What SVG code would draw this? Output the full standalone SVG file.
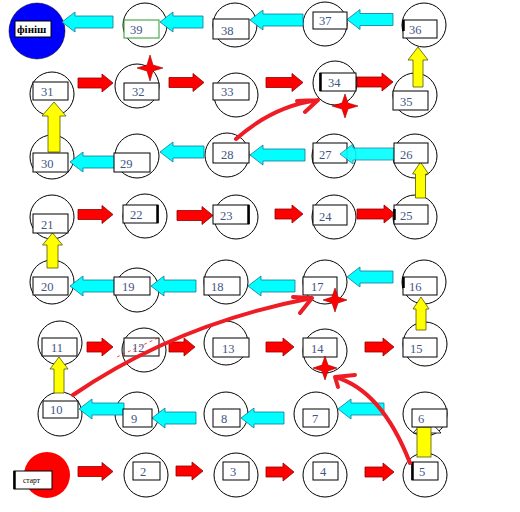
<svg xmlns="http://www.w3.org/2000/svg" width="520" height="512" viewBox="0 0 520 512">
<style>
.c{fill:none;stroke:#000;stroke-width:1}
.b{fill:#fff;stroke:#000;stroke-width:1}
.t{font-family:"Liberation Serif",serif;font-size:12.5px;fill:#3f5585}
.ra{fill:#ff0000;stroke:#900000;stroke-width:0.8}
.ca{fill:#00ffff;stroke:#0a7a9a;stroke-width:0.8}
.ya{fill:#ffff00;stroke:#555500;stroke-width:0.8}
.cv{fill:none;stroke:#ee1c24;stroke-width:4;stroke-linecap:round;stroke-linejoin:round}
.st{fill:#ff0000;stroke:#a00000;stroke-width:0.6}
.tk{stroke:#000;stroke-width:2.5}
</style>
<rect width="520" height="512" fill="#fff"/>
<g id="circles">
<circle cx="37" cy="31" r="28" fill="#0000ff" stroke="#000" stroke-width="0.5"/>
<circle class="c" cx="145" cy="25" r="22"/>
<circle class="c" cx="235" cy="25" r="22"/>
<circle class="c" cx="325" cy="24" r="22"/>
<circle class="c" cx="424" cy="25" r="22"/>
<circle class="c" cx="52" cy="94" r="22"/>
<circle class="c" cx="137" cy="86" r="22"/>
<circle class="c" cx="236" cy="95" r="22"/>
<circle class="c" cx="335" cy="83" r="22"/>
<circle class="c" cx="415" cy="95" r="22"/>
<circle class="c" cx="52" cy="157" r="22"/>
<circle class="c" cx="137" cy="156" r="22"/>
<circle class="c" cx="227" cy="155" r="22"/>
<circle class="c" cx="334" cy="156" r="22"/>
<circle class="c" cx="415" cy="156" r="22"/>
<circle class="c" cx="52" cy="217" r="22"/>
<circle class="c" cx="145" cy="216" r="22"/>
<circle class="c" cx="236" cy="217" r="22"/>
<circle class="c" cx="334" cy="217" r="22"/>
<circle class="c" cx="415" cy="217" r="22"/>
<circle class="c" cx="52" cy="282" r="22"/>
<circle class="c" cx="137" cy="290" r="22"/>
<circle class="c" cx="226" cy="282" r="22"/>
<circle class="c" cx="325" cy="282" r="22"/>
<circle class="c" cx="424" cy="282" r="22"/>
<circle class="c" cx="60" cy="343" r="22"/>
<circle class="c" cx="144" cy="350" r="22"/>
<circle class="c" cx="226" cy="343" r="22"/>
<circle class="c" cx="325" cy="351" r="22"/>
<circle class="c" cx="425" cy="344" r="22"/>
<circle class="c" cx="60" cy="414" r="22"/>
<circle class="c" cx="137" cy="414" r="22"/>
<circle class="c" cx="226" cy="414" r="22"/>
<circle class="c" cx="316" cy="414" r="22"/>
<circle class="c" cx="425" cy="414" r="22"/>
<circle cx="47" cy="475" r="23" fill="#ff0000"/>
<circle class="c" cx="146" cy="475" r="22"/>
<circle class="c" cx="236" cy="475" r="22"/>
<circle class="c" cx="325" cy="475" r="22"/>
<circle class="c" cx="425" cy="475" r="22"/>
</g>
<g id="connectors">
<path class="ra" d="M78,466.5 H102 V462.5 L113,471.5 L102,480.5 V476.5 H78 Z"/>
<path class="ra" d="M176,466 H192 V462 L203,471 L192,480 V476 H176 Z"/>
<path class="ra" d="M266,467 H283 V463 L294,472 L283,481 V477 H266 Z"/>
<path class="ra" d="M365,467 H383 V463 L394,472 L383,481 V477 H365 Z"/>
<path class="ra" d="M87,342 H102 V338 L113,347 L102,356 V352 H87 Z"/>
<path class="ra" d="M169,342 H184 V338 L195,347 L184,356 V352 H169 Z"/>
<path class="ra" d="M266,342 H283 V338 L294,347 L283,356 V352 H266 Z"/>
<path class="ra" d="M365,342 H383 V338 L394,347 L383,356 V352 H365 Z"/>
<path class="ra" d="M78,209.5 H102 V205.5 L113,214.5 L102,223.5 V219.5 H78 Z"/>
<path class="ra" d="M177,210.5 H202 V206.5 L213,215.5 L202,224.5 V220.5 H177 Z"/>
<path class="ra" d="M275,209 H292 V205 L303,214 L292,223 V219 H275 Z"/>
<path class="ra" d="M357,209 H384 V205 L395,214 L384,223 V219 H357 Z"/>
<path class="ra" d="M78,78 H102 V74 L113,83 L102,92 V88 H78 Z"/>
<path class="ra" d="M169,77.5 H193 V73.5 L204,82.5 L193,91.5 V87.5 H169 Z"/>
<path class="ra" d="M266,77.5 H292 V73.5 L303,82.5 L292,91.5 V87.5 H266 Z"/>
<path class="ra" d="M357,77 H382 V73 L393,82 L382,91 V87 H357 Z"/>
<path class="ca" d="M62,22 L75,12 V16 H113 V28 H75 V32 Z"/>
<path class="ca" d="M160,22 L173,12 V16 H203 V28 H173 V32 Z"/>
<path class="ca" d="M250,20 L263,10 V14 H303 V26 H263 V30 Z"/>
<path class="ca" d="M347,19.5 L360,9.5 V13.5 H393 V25.5 H360 V29.5 Z"/>
<path class="ca" d="M70,162 L83,152 V156 H115 V168 H83 V172 Z"/>
<path class="ca" d="M160,152 L173,142 V146 H204 V158 H173 V162 Z"/>
<path class="ca" d="M250,155 L263,145 V149 H305 V161 H263 V165 Z"/>
<path class="ca" d="M70,286 L83,276 V280 H115 V292 H83 V296 Z"/>
<path class="ca" d="M151,286 L164,276 V280 H196 V292 H164 V296 Z"/>
<path class="ca" d="M248,286 L261,276 V280 H295 V292 H261 V296 Z"/>
<path class="ca" d="M347,277 L360,267 V271 H393 V283 H360 V287 Z"/>
<path class="ca" d="M79,409 L92,399 V403 H124 V415 H92 V419 Z"/>
<path class="ca" d="M152,418 L165,408 V412 H196 V424 H165 V428 Z"/>
<path class="ca" d="M241,418 L254,408 V412 H284 V424 H254 V428 Z"/>
<path class="ca" d="M338,409 L351,399 V403 H384 V415 H351 V419 Z"/>
<path class="ya" d="M59,357 L68,369 H64 V393 H54 V369 H50 Z"/>
<path class="ya" d="M421,297 L429,309 H426 V330 H416 V309 H413 Z"/>
<path class="ya" d="M52.5,233 L62.5,245 H58 V268 H47 V245 H42.5 Z"/>
<path class="ya" d="M420.5,162 L428.5,174 H425.5 V198 H415.5 V174 H412.5 Z"/>
<path class="ya" d="M54,102 L66,116 H60 V152 H48 V116 H42 Z"/>
<path class="ya" d="M418,47 L428,60 H423 V87 H413 V60 H408 Z"/>
<path d="M413,433 L441,433 L427,418 Z" fill="#fff" stroke="#000" stroke-width="0.8"/>
<rect class="ya" x="417" y="427" width="14" height="30"/>
</g>
<g id="n-finish"><rect class="b" x="15" y="21" width="36" height="16"/><text x="17" y="33" font-family="Liberation Serif,serif" font-size="11" font-weight="bold" fill="#000">фініш</text></g>
<g id="n39"><rect x="124" y="20" width="35" height="18" fill="#fff" stroke="#2a9a2a"/><text class="t" x="130" y="34">39</text></g>
<g id="n38"><rect class="b" x="213" y="19" width="36" height="20"/><text class="t" x="221" y="35">38</text></g>
<g id="n37"><rect class="b" x="313" y="12" width="34" height="17"/><text class="t" x="319" y="25">37</text></g>
<g id="n36"><rect class="b" x="403" y="20" width="34" height="18"/><line class="tk" x1="403.5" y1="20" x2="403.5" y2="31"/><text class="t" x="409" y="34">36</text></g>
<g id="n31"><rect class="b" x="33" y="82" width="35" height="18"/><text class="t" x="41" y="96">31</text></g>
<g id="n32"><rect class="b" x="124" y="83" width="35" height="17"/><text class="t" x="132" y="96">32</text></g>
<g id="n33"><rect class="b" x="213" y="83" width="36" height="17"/><text class="t" x="221" y="96">33</text></g>
<g id="n34"><rect class="b" x="320" y="73" width="36" height="18"/><line class="tk" x1="320.5" y1="73" x2="320.5" y2="91"/><text class="t" x="328" y="87">34</text></g>
<g id="n35"><rect class="b" x="393" y="91" width="35" height="19"/><text class="t" x="400" y="106">35</text></g>
<g id="n30"><rect class="b" x="33" y="153" width="35" height="19"/><text class="t" x="41" y="168">30</text></g>
<g id="n29"><rect class="b" x="114" y="153" width="36" height="19"/><text class="t" x="120" y="168">29</text></g>
<g id="n28"><rect class="b" x="213" y="143" width="36" height="20"/><text class="t" x="221" y="159">28</text></g>
<g id="n27"><rect class="b" x="313" y="143" width="34" height="20"/><text class="t" x="319" y="159">27</text></g>
<path class="ca" d="M340,154 L353,144 V148 H395 V160 H353 V164 Z" opacity="0.9"/>
<g id="n26"><rect class="b" x="394" y="143" width="34" height="20"/><text class="t" x="400" y="159">26</text></g>
<g id="n21"><rect class="b" x="33" y="214" width="35" height="19"/><text class="t" x="41" y="229">21</text></g>
<g id="n22"><rect class="b" x="123" y="205" width="35" height="18"/><line class="tk" x1="157.5" y1="205" x2="157.5" y2="223"/><text class="t" x="130" y="219">22</text></g>
<g id="n23"><rect class="b" x="213" y="205" width="36" height="19"/><line class="tk" x1="248.5" y1="205" x2="248.5" y2="224"/><text class="t" x="220" y="220">23</text></g>
<g id="n24"><rect class="b" x="313" y="205" width="34" height="20"/><text class="t" x="319" y="221">24</text></g>
<g id="n25"><rect class="b" x="394" y="205" width="34" height="19"/><line class="tk" x1="394.5" y1="209" x2="394.5" y2="220"/><text class="t" x="400" y="220">25</text></g>
<g id="n20"><rect class="b" x="33" y="277" width="35" height="18"/><text class="t" x="41" y="291">20</text></g>
<g id="n19"><rect class="b" x="114" y="277" width="36" height="18"/><text class="t" x="122" y="291">19</text></g>
<g id="n18"><rect class="b" x="204" y="277" width="36" height="18"/><text class="t" x="211" y="291">18</text></g>
<g id="n17"><rect class="b" x="303" y="277" width="34" height="18"/><text class="t" x="311" y="291">17</text></g>
<g id="n16"><rect class="b" x="403" y="277" width="34" height="18"/><line class="tk" x1="403.5" y1="277" x2="403.5" y2="288"/><text class="t" x="409" y="291">16</text></g>
<g id="n11"><rect class="b" x="42" y="338" width="35" height="18"/><text class="t" x="51" y="352">11</text></g>
<g id="n12"><rect class="b" x="124" y="338" width="35" height="18"/><text class="t" x="132" y="352">12</text></g>
<g id="n13"><rect class="b" x="213" y="338" width="36" height="19"/><text class="t" x="222" y="353">13</text></g>
<g id="n14"><rect class="b" x="303" y="338" width="34" height="19"/><text class="t" x="311" y="353">14</text></g>
<g id="n15"><rect class="b" x="403" y="338" width="34" height="19"/><text class="t" x="410" y="353">15</text></g>
<g id="n10"><rect class="b" x="43" y="401" width="35" height="17"/><text class="t" x="50" y="414">10</text></g>
<g id="n9"><rect class="b" x="123" y="409" width="29" height="18"/><text class="t" x="131" y="423">9</text></g>
<g id="n8"><rect class="b" x="213" y="409" width="27" height="18"/><text class="t" x="221" y="423">8</text></g>
<g id="n7"><rect class="b" x="303" y="409" width="26" height="18"/><text class="t" x="312" y="423">7</text></g>
<g id="n6"><rect class="b" x="412" y="409" width="35" height="18"/><text class="t" x="418" y="423">6</text></g>
<g id="n-start"><rect class="b" x="14" y="471" width="38" height="18"/><line class="tk" x1="14.5" y1="471" x2="14.5" y2="489"/><text x="23" y="483" font-family="Liberation Serif,serif" font-size="7.5" fill="#000">старт</text></g>
<g id="n2"><rect class="b" x="133" y="462" width="27" height="18"/><text class="t" x="140" y="476">2</text></g>
<g id="n3"><rect class="b" x="223" y="462" width="26" height="18"/><text class="t" x="230" y="476">3</text></g>
<g id="n4"><rect class="b" x="313" y="462" width="25" height="18"/><text class="t" x="320" y="476">4</text></g>
<g id="n5"><rect class="b" x="412" y="462" width="26" height="18"/><line class="tk" x1="412.5" y1="462" x2="412.5" y2="480"/><text class="t" x="419" y="476">5</text></g>
<g id="jumps">
<line x1="117" y1="357" x2="160" y2="337" stroke="#ee1c24" stroke-width="0.8" stroke-dasharray="3,3"/>
<path class="cv" d="M236,139 Q273,106 318,100 M297,101 L318,100 L305,112"/>
<path class="cv" d="M73,395 Q177.5,323.5 312,298 M293,297 L312,298 L300,313"/>
<path class="cv" d="M410,463 Q381.5,390 335,377 M355,375 L335,377 L338,387"/>
</g>
<g id="stars">
<path class="st" d="M150,55 L153,65 L163,68 L153,71 L150,81 L147,71 L137,68 L147,65 Z"/>
<path class="st" d="M345,94 L348,103 L358,106 L348,109 L345,118 L342,109 L332,106 L342,103 Z"/>
<path class="st" d="M335,288 L338,297 L347,300 L338,303 L335,312 L332,303 L323,300 L332,297 Z"/>
<path class="st" d="M325,356 L328,365 L337,368 L328,371 L325,380 L322,371 L313,368 L322,365 Z"/>
</g>
</svg>
